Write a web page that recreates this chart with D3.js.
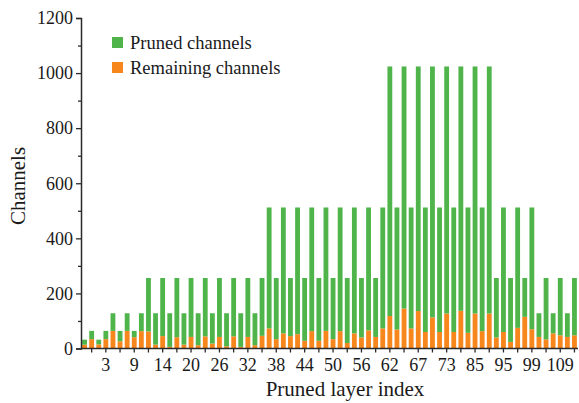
<!DOCTYPE html>
<html>
<head>
<meta charset="utf-8">
<script src="https://cdn.jsdelivr.net/npm/d3@7/dist/d3.min.js"></script>
<style>
  html, body { margin: 0; padding: 0; background: #ffffff; }
  svg { display: block; }
  text { font-family: "Liberation Serif", "Times New Roman", serif; fill: #1a1a1a; }
</style>
</head>
<body>
<svg id="chart" width="579" height="403"></svg>
<script>
// Channels kept in each pruned layer (bottom segment of each bar)
const remaining = [14,34,15,34,64,26,64,41,63,62,
                   14,45,6,41,14,42,12,44,18,42,
                   8,44,6,42,12,46,73,34,55,45,
                   52,28,63,28,64,34,63,20,55,40,
                   66,42,73,118,69,145,73,136,60,113,
                   60,127,60,137,57,127,63,127,40,60,
                   24,75,115,70,42,33,55,48,42,48];

// Channels removed in each pruned layer (top segment of each bar)
const pruned = [18,30,17,30,64,38,64,23,65,194,
                114,211,122,215,114,214,116,212,110,214,
                120,212,122,214,116,210,439,222,457,211,
                460,228,449,228,448,222,449,236,457,216,
                446,214,439,906,443,879,439,888,452,911,
                452,897,452,887,455,897,449,897,216,452,
                232,437,141,442,86,223,73,208,86,208];

// Layer indices printed under every fourth bar
const layerLabels = ["3","9","14","20","26","32","38","44","50","56",
                     "62","67","73","85","95","99","109"];

const yTicks = [0, 200, 400, 600, 800, 1000, 1200];
const yMinorTicks = [100, 300, 500, 700, 900, 1100];

const seriesNames = ["Pruned channels", "Remaining channels"];
const seriesColors = ["#4fb54b", "#f7861c"];

const svg = d3.select("#chart");
const axisColor = "#2b2b2b";

const bars = d3.range(remaining.length);
const x = d3.scaleBand()
  .domain(bars)
  .range([81, 578])
  .paddingInner(0.32)
  .paddingOuter(0.16);

const y = d3.scaleLinear().domain([0, 1200]).range([348.5, 18]);

// Stacked bars: remaining at the bottom, pruned on top
const rows = bars.map(i => ({ i, remaining: remaining[i], pruned: pruned[i] }));
const stack = d3.stack().keys(["remaining", "pruned"])(rows);
const colorOf = { pruned: seriesColors[0], remaining: seriesColors[1] };

svg.append("g")
  .selectAll("g")
  .data(stack)
  .join("g")
  .attr("fill", d => colorOf[d.key])
  .selectAll("rect")
  .data(d => d)
  .join("rect")
  .attr("x", d => x(d.data.i))
  .attr("width", x.bandwidth())
  .attr("y", d => y(d[1]))
  .attr("height", d => y(d[0]) - y(d[1]));

// Y axis with labelled major ticks and unlabelled minor ticks
svg.append("g")
  .attr("transform", "translate(81,0)")
  .call(d3.axisLeft(y).tickValues(yTicks).tickSize(5).tickPadding(3).tickFormat(d3.format("d")));
svg.append("g")
  .attr("transform", "translate(81,0)")
  .call(d3.axisLeft(y).tickValues(yMinorTicks).tickSize(3).tickFormat(""))
  .call(g => g.select(".domain").remove());

// X axis: a tick at every second bar, a label at every fourth
const tickBars = bars.filter(i => i % 2 === 1);
const labelOf = i => (i % 4 === 3 ? layerLabels[(i - 3) / 4] : "");
const xAxis = svg.append("g")
  .attr("transform", `translate(0,${y(0)})`)
  .call(d3.axisBottom(x).tickValues(tickBars).tickSize(4).tickPadding(6).tickFormat(labelOf));
xAxis.select(".domain").attr("d", `M81,0H578`);

svg.selectAll(".domain").attr("stroke", axisColor).attr("stroke-width", 1.5);
svg.selectAll(".tick line").attr("stroke", axisColor).attr("stroke-width", 1.3);
svg.selectAll(".tick text")
  .attr("fill", "#1a1a1a")
  .style("font-family", "'Liberation Serif', 'Times New Roman', serif")
  .style("font-size", "18px");

// Axis titles
svg.append("text")
  .attr("x", 345)
  .attr("y", 396)
  .attr("text-anchor", "middle")
  .style("font-size", "21px")
  .text("Pruned layer index");

svg.append("text")
  .attr("transform", "translate(25,186) rotate(-90)")
  .attr("text-anchor", "middle")
  .style("font-size", "21px")
  .text("Channels");

// Legend
const legend = svg.append("g");
seriesNames.forEach((name, k) => {
  legend.append("rect")
    .attr("x", 112)
    .attr("y", 37 + k * 25)
    .attr("width", 11)
    .attr("height", 11)
    .attr("fill", seriesColors[k]);
  legend.append("text")
    .attr("x", 130)
    .attr("y", 48.5 + k * 25)
    .style("font-size", "18.5px")
    .text(name);
});
</script>
</body>
</html>
